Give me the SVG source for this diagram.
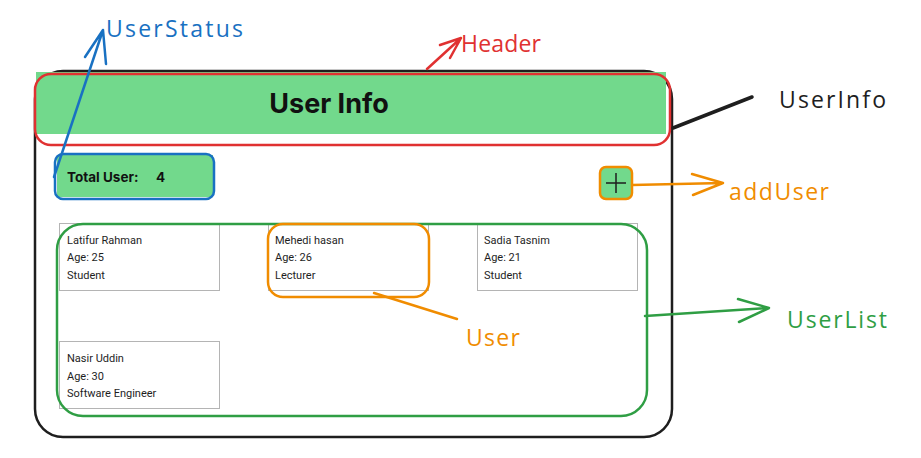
<svg xmlns="http://www.w3.org/2000/svg" width="921" height="458" viewBox="0 0 921 458">
<style>
.hand{font-family:"Open Sans","Liberation Sans",sans-serif;font-size:23px}
.card{fill:#fff;stroke:#b4b4b4;stroke-width:1}
.ct{font-family:Roboto,"Liberation Sans",sans-serif;font-size:11px;fill:#1e1e1e}
.ln{fill:none;stroke-linecap:round;stroke-linejoin:round}
</style>
<rect width="921" height="458" fill="#fff"/>
<g id="UserInfo">
<rect x="35" y="71" width="637" height="366" rx="28" fill="#fff" stroke="#1e1e1e" stroke-width="2.5"/>
</g>
<g id="Header">
<rect x="36" y="72" width="630" height="62" fill="#72d98c"/>
<rect x="35" y="74" width="635" height="71" rx="16" fill="none" stroke="#e03131" stroke-width="2.5"/>
<text x="329" y="113" text-anchor="middle" font-family="Inter,'Liberation Sans',sans-serif" font-size="27" font-weight="bold" fill="#111">User Info</text>
</g>
<g id="UserStatus">
<rect x="57" y="155" width="156" height="42" fill="#72d98c"/>
<rect x="55" y="154" width="159" height="45" rx="8" fill="none" stroke="#1971c2" stroke-width="2.5"/>
<text x="67" y="182" font-family="Inter,'Liberation Sans',sans-serif" font-size="13.5" font-weight="bold" fill="#111">Total User:</text>
<text x="156" y="182" font-family="Inter,'Liberation Sans',sans-serif" font-size="13.5" font-weight="bold" fill="#111">4</text>
</g>
<g id="addUser">
<rect x="600" y="167" width="32" height="32" rx="6" fill="#72d98c" stroke="#f08c00" stroke-width="2.5"/>
<path d="M606 183H626M616 173V193" stroke="#1e1e1e" stroke-width="1.5"/>
</g>
<g id="UserList">
<g id="user1">
<rect class="card" x="59.5" y="223.5" width="160" height="67"/>
<text class="ct" x="67" y="244">Latifur Rahman</text>
<text class="ct" x="67" y="261">Age: 25</text>
<text class="ct" x="67" y="279">Student</text>
</g>
<g id="user2">
<rect class="card" x="268.5" y="223.5" width="160" height="67"/>
<text class="ct" x="275" y="244">Mehedi hasan</text>
<text class="ct" x="275" y="261">Age: 26</text>
<text class="ct" x="275" y="279">Lecturer</text>
</g>
<g id="user3">
<rect class="card" x="477.5" y="223.5" width="160" height="67"/>
<text class="ct" x="484" y="244">Sadia Tasnim</text>
<text class="ct" x="484" y="261">Age: 21</text>
<text class="ct" x="484" y="279">Student</text>
</g>
<g id="user4">
<rect class="card" x="59.5" y="341.5" width="160" height="67"/>
<text class="ct" x="67" y="362">Nasir Uddin</text>
<text class="ct" x="67" y="380">Age: 30</text>
<text class="ct" x="67" y="397">Software Engineer</text>
</g>
<rect x="57" y="224" width="590" height="192" rx="26" fill="none" stroke="#2f9e44" stroke-width="2.5"/>
</g>
<g id="User">
<rect x="268" y="224" width="161" height="73" rx="15" fill="none" stroke="#f08c00" stroke-width="2.5"/>
</g>
<g id="connectors">
<path class="ln" d="M54 177L103 30M85 57L103 30L106 64" stroke="#1971c2" stroke-width="2.5"/>
<path class="ln" d="M427 69L461 38M440 45L461 38L450 58" stroke="#e03131" stroke-width="2.5"/>
<path class="ln" d="M673 128L752 97" stroke="#1e1e1e" stroke-width="3.5"/>
<path class="ln" d="M632 185L723 183M692 174L723 183L693 195" stroke="#f08c00" stroke-width="2.5"/>
<path class="ln" d="M645 316L769 308M738 299L769 308L739 322" stroke="#2f9e44" stroke-width="2.5"/>
<path class="ln" d="M374 293L457 319" stroke="#f08c00" stroke-width="2.5"/>
</g>
<g id="labels">
<text class="hand" x="106" y="37" fill="#1971c2" textLength="137" lengthAdjust="spacing">UserStatus</text>
<text class="hand" x="461" y="52" fill="#e03131" textLength="80" lengthAdjust="spacing">Header</text>
<text class="hand" x="779" y="108" fill="#1e1e1e" textLength="107" lengthAdjust="spacing">UserInfo</text>
<text class="hand" x="729" y="200" fill="#f08c00" textLength="100" lengthAdjust="spacing">addUser</text>
<text class="hand" x="787" y="328" fill="#2f9e44" textLength="100" lengthAdjust="spacing">UserList</text>
<text class="hand" x="466" y="346" fill="#f08c00" textLength="54" lengthAdjust="spacing">User</text>
</g>
</svg>
